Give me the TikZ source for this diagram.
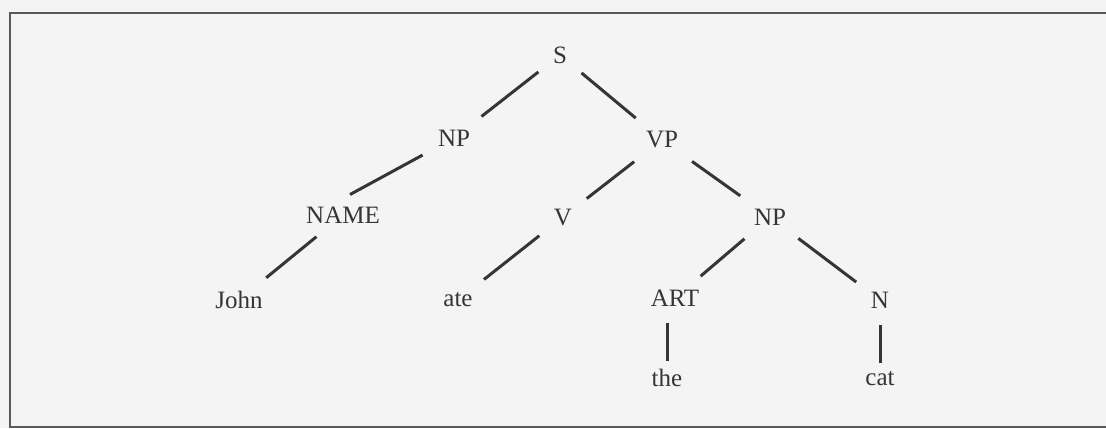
\documentclass[tikz,border=0pt]{standalone}
\usepackage{fontspec}
\setmainfont{Liberation Serif}
\definecolor{ink}{HTML}{353535}
\definecolor{paper}{HTML}{F4F4F4}

\begin{document}
\begin{tikzpicture}[x=0.5pt,y=-0.5pt,
  every node/.style={text=ink,font=\fontsize{12.5}{15}\selectfont,inner sep=4pt},
  branch/.style={draw=ink,line width=1.5pt,shorten <=4pt,shorten >=4pt},
  stem/.style={draw=ink,line width=1.5pt,shorten <=4pt}]
  \useasboundingbox (0,0) rectangle (1106,428);
  \fill[paper] (0,0) rectangle (1106,428);
  \draw[line width=1.2pt,draw=black!65] (1106,13) -- (10,13) -- (10,427) -- (1106,427);
  \node (s) at (560,55) {S};
  \node (npl) at (454,138) {NP};
  \node (vp) at (662,140) {VP};
  \node (name) at (343,215) {NAME};
  \node (v) at (563,217) {V};
  \node (npr) at (770,217) {NP};
  \node (john) at (239,300) {John};
  \node (ate) at (458,300) {ate};
  \node (art) at (675,298) {ART};
  \node (n) at (880,300) {N};
  \node (the) at (667,378) {the};
  \node (cat) at (880,379) {cat};
  \draw[branch] (s) to (npl);
  \draw[branch] (s) to (vp);
  \draw[branch] (npl) to (name.north);
  \draw[branch] (vp) to (v);
  \draw[branch] (vp) to (npr);
  \draw[branch] (name) to (john);
  \draw[branch] (v) to (ate);
  \draw[branch] (npr) to (art);
  \draw[branch] (npr) to (n);
  \draw[stem] (the.north |- art.south) to (the.north);
  \draw[stem] (cat.north |- n.south) to (cat.north);
\end{tikzpicture}
\end{document}
